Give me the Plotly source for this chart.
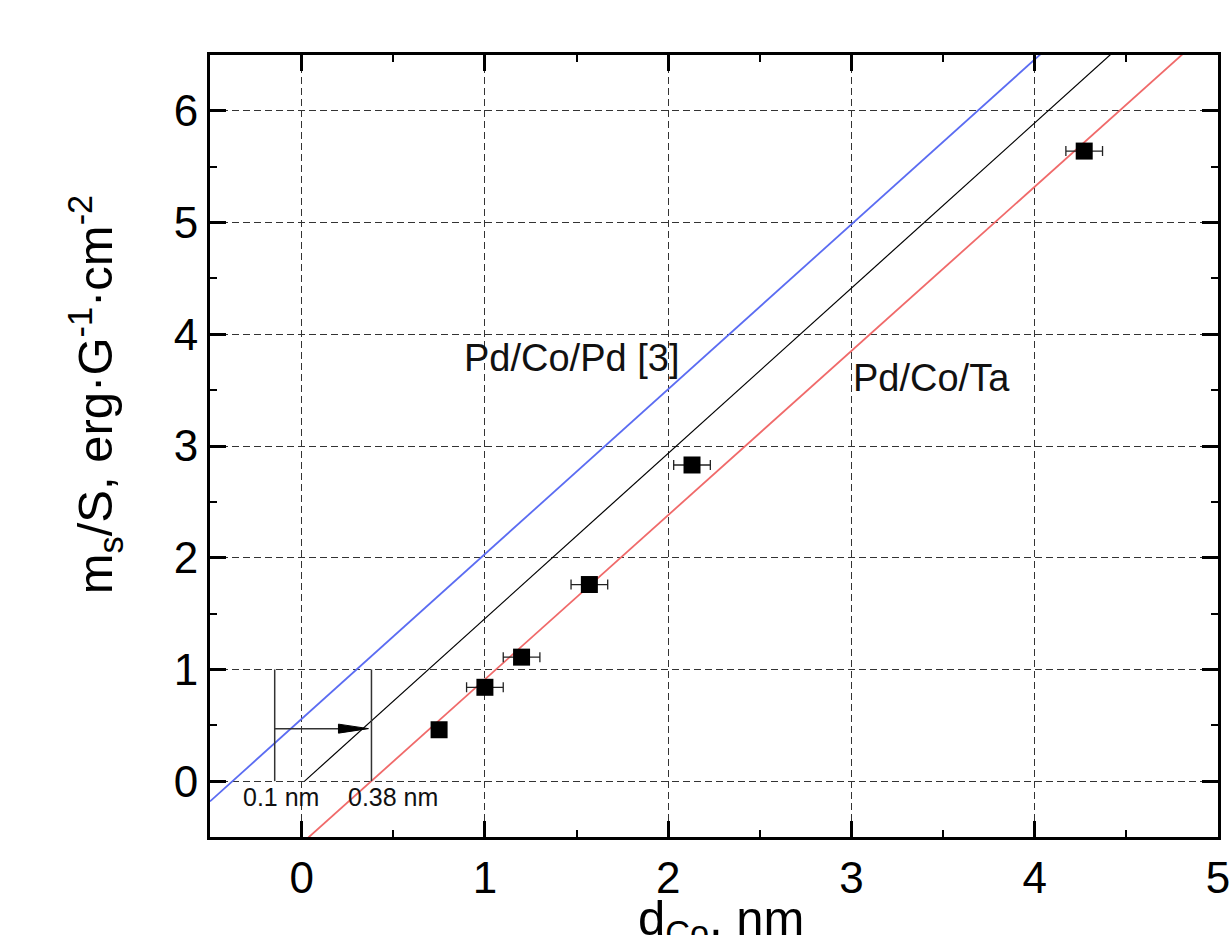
import plotly.graph_objects as go

# Measured saturation moment per unit area vs Co thickness
d_co = [0.75, 1.00, 1.20, 1.57, 2.13, 4.27]
ms_per_s = [0.46, 0.84, 1.11, 1.76, 2.83, 5.64]
d_err = [0.0, 0.10, 0.10, 0.10, 0.10, 0.10]

# Linear fits: slope and x-intercept (dead-layer thickness)
line_names = ["Pd/Co/Pd [3]", "reference", "Pd/Co/Ta"]
line_slopes = [1.476, 1.479, 1.470]
line_x0 = [-0.377, 0.016, 0.380]
line_colors = ["#5b6cf2", "#000000", "#f06a6a"]
line_widths = [1.8, 1.2, 1.8]
line_starts = [-0.5, 0.016, -0.5]

# Dead-layer markers
dead_x = [-0.147, 0.381]
dead_labels = ["0.1 nm", "0.38 nm"]
arrow_y = 0.47

x_range = [-0.5, 5.0]
y_range = [-0.5, 6.5]

x_title = "d<sub>Co</sub>, nm"
y_title = "m<sub>s</sub>/S, erg·G<sup>-1</sup>·cm<sup>-2</sup>"

FONT = "Liberation Sans, Arial, sans-serif"

fig = go.Figure()

for name, k, x0, col, w, xs in zip(line_names, line_slopes, line_x0,
                                   line_colors, line_widths, line_starts):
    xs_line = [xs, x_range[1]]
    fig.add_trace(go.Scatter(
        x=xs_line, y=[k * (x - x0) for x in xs_line],
        mode="lines", line=dict(color=col, width=w),
        name=name, showlegend=False, hoverinfo="skip"))

fig.add_trace(go.Scatter(
    x=d_co, y=ms_per_s, mode="markers",
    marker=dict(symbol="square", size=17, color="black"),
    error_x=dict(type="data", array=d_err, visible=True,
                 color="#222", thickness=1.3, width=5),
    showlegend=False))

shapes = []
for xv in dead_x:
    shapes.append(dict(type="line", xref="x", yref="y",
                       x0=xv, x1=xv, y0=0, y1=1,
                       line=dict(color="#333", width=1.5)))

# arrow between the two intercepts
px_x = (x_range[1] - x_range[0]) / 1008.0
px_y = (y_range[1] - y_range[0]) / 782.0
tip = dead_x[1] - 3 * px_x
base = tip - 30 * px_x
half = 4.5 * px_y
shapes.append(dict(type="line", xref="x", yref="y",
                   x0=dead_x[0], x1=base, y0=arrow_y, y1=arrow_y,
                   line=dict(color="#333", width=1.5)))
shapes.append(dict(type="path", xref="x", yref="y",
                   path=f"M {base},{arrow_y + half} L {tip},{arrow_y} "
                        f"L {base},{arrow_y - half} Z",
                   fillcolor="black", line=dict(color="black", width=1)))

annotations = [
    dict(x=-0.11, y=-0.14, xref="x", yref="y", text=dead_labels[0],
         showarrow=False, font=dict(family=FONT, size=25, color="#111")),
    dict(x=0.50, y=-0.14, xref="x", yref="y", text=dead_labels[1],
         showarrow=False, font=dict(family=FONT, size=25, color="#111")),
    dict(x=1.475, y=3.79, xref="x", yref="y", text=line_names[0],
         showarrow=False, font=dict(family=FONT, size=38, color="#111")),
    dict(x=3.435, y=3.61, xref="x", yref="y", text=line_names[2],
         showarrow=False, font=dict(family=FONT, size=38, color="#111")),
    # axis titles
    dict(x=0.507, y=-0.066, xref="paper", yref="paper", text=x_title,
         xanchor="center", yanchor="top", showarrow=False,
         font=dict(family=FONT, size=49, color="black")),
    dict(x=-0.114, y=0.565, xref="paper", yref="paper", text=y_title,
         textangle=-90, xanchor="center", yanchor="middle", showarrow=False,
         font=dict(family=FONT, size=49, color="black")),
]

axis_common = dict(
    showline=True, linecolor="black", linewidth=3, mirror="allticks",
    ticks="inside", ticklen=16, tickwidth=2.5, tickcolor="black",
    showgrid=True, gridcolor="#333", gridwidth=1.2, griddash="7px,4px",
    zeroline=False, dtick=1, automargin=False,
    tickfont=dict(family=FONT, size=44, color="black"),
    minor=dict(dtick=0.5, ticks="inside", ticklen=7, tickwidth=2,
               tickcolor="black", showgrid=False),
)

fig.update_layout(
    width=1231, height=935,
    margin=dict(l=210, r=13, t=55, b=98),
    paper_bgcolor="white", plot_bgcolor="white",
    shapes=shapes, annotations=annotations,
    xaxis=dict(range=x_range, tick0=0, **axis_common),
    yaxis=dict(range=y_range, tick0=0, **axis_common),
)

fig.write_html("out.html")
